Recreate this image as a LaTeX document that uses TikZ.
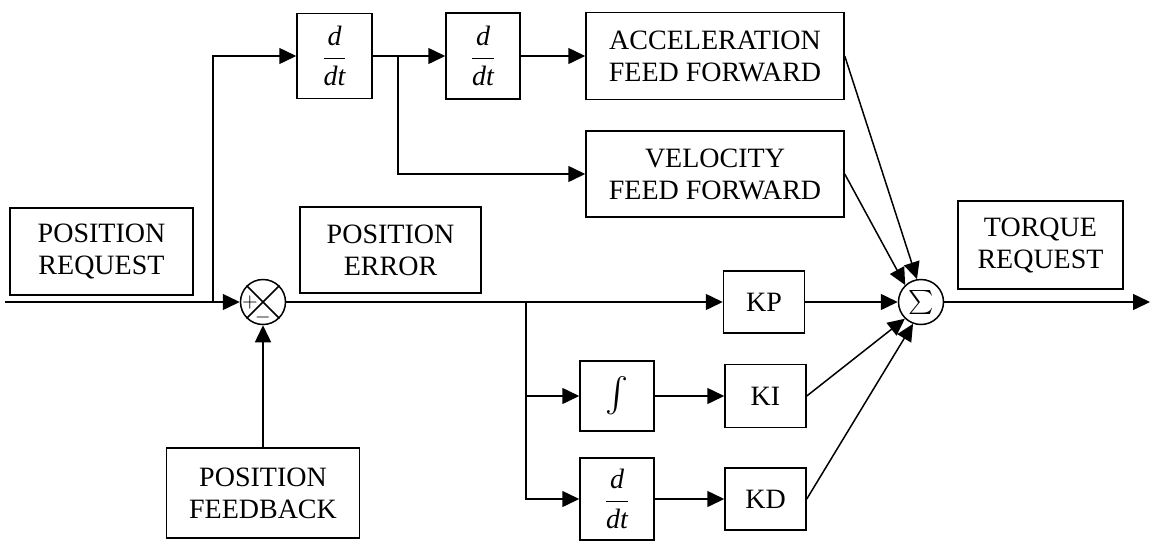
\documentclass[tikz,border=0pt]{standalone}
\usepackage{fontspec}
\usepackage{amsmath}
\setmainfont{Liberation Serif}
\usetikzlibrary{arrows.meta}

\newcommand{\ddtfrac}{$\dfrac{\textit{d}}{\textit{dt}}$}

\begin{document}
\begin{tikzpicture}[x=0.5pt, y=-0.5pt, line width=0.75pt,
    >={Triangle[length=8.5pt,width=8pt]},
    block/.style={draw, rectangle, inner sep=0pt, align=center, font=\fontsize{14}{16}\selectfont},
    sumnode/.style={draw, circle, inner sep=0pt, minimum size=22.5pt},
    signtext/.style={inner sep=0pt, font=\fontsize{10}{10}\selectfont}]
    \useasboundingbox (0,0) rectangle (1151,542);

    % Label boxes
    \node[block, minimum width=91.5pt, minimum height=43.5pt] (preq) at (101.5,251.5) {POSITION\\REQUEST};
    \node[block, minimum width=90.5pt, minimum height=43pt] (perr) at (390.5,250) {POSITION\\ERROR};
    \node[block, minimum width=96.5pt, minimum height=45pt] (pfb) at (263,493) {POSITION\\FEEDBACK};
    \node[block, minimum width=82.5pt, minimum height=44pt] (treq) at (1040.5,245) {TORQUE\\REQUEST};

    % Feed forward path
    \node[block, minimum width=37.5pt, minimum height=42.5pt] (ddtA) at (334.5,56) {\ddtfrac};
    \node[block, minimum width=37pt, minimum height=43pt] (ddtB) at (483,56) {\ddtfrac};
    \node[block, minimum width=129pt, minimum height=43.5pt] (accff) at (715,56) {ACCELERATION\\FEED FORWARD};
    \node[block, minimum width=129pt, minimum height=43pt] (velff) at (715,174) {VELOCITY\\FEED FORWARD};

    % PID path
    \node[block, minimum width=40.5pt, minimum height=31pt] (kp) at (764,302) {KP};
    \node[block, minimum width=37pt, minimum height=35pt] (intg) at (617,396) {\fontsize{19}{19}\selectfont$\int$};
    \node[block, minimum width=40.5pt, minimum height=31.5pt] (ki) at (765.5,396) {KI};
    \node[block, minimum width=37pt, minimum height=41pt] (ddtC) at (617,499) {\ddtfrac};
    \node[block, minimum width=40.5pt, minimum height=31pt] (kd) at (765.5,499) {KD};

    % Summing junctions
    \node[sumnode] (sumA) at (263,302) {};
    \draw (sumA.45) -- (sumA.225) (sumA.135) -- (sumA.315);
    \node[signtext] (plusA) at (250,302) {$+$};
    \node[signtext] (minusA) at (263,317) {$-$};
    \node[sumnode] (sumB) at (921,302) {\fontsize{12.5}{12.5}\selectfont$\textstyle\sum$};

    % Branch points
    \coordinate (in) at (5,302);
    \coordinate (brA) at (213,302);
    \coordinate (brB) at (398,56);
    \coordinate (brC) at (526,302);
    \coordinate (out) at (1150,302);

    % Connections
    \draw[->] (in) -- (sumA);
    \draw[->] (pfb) -- (sumA);
    \draw[->] (brA) |- (ddtA);
    \draw[->] (ddtA) -- (ddtB);
    \draw[->] (ddtB) -- (accff);
    \draw[->] (brB) |- (velff);
    \draw[->] (sumA) -- (kp);
    \draw[->] (brC) |- (intg);
    \draw[->] (brC) |- (ddtC);
    \draw[->] (intg) -- (ki);
    \draw[->] (ddtC) -- (kd);

    % Into the torque sum
    \draw[->] (accff.east) -- (sumB.100);
    \draw[->] (velff.east) -- (sumB.133);
    \draw[->] (kp) -- (sumB);
    \draw[->] (ki.east) -- (sumB.226);
    \draw[->] (kd.east) -- (sumB.250);
    \draw[->] (sumB) -- (out);
\end{tikzpicture}
\end{document}
